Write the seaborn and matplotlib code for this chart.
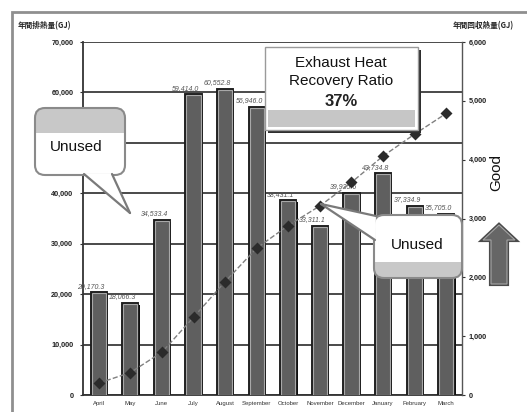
import numpy as np
import pandas as pd
import matplotlib
matplotlib.use("Agg")
import matplotlib.pyplot as plt
import matplotlib.patheffects as pe
from matplotlib.patches import FancyBboxPatch, Rectangle, Polygon
from matplotlib.lines import Line2D
from matplotlib.transforms import IdentityTransform
from matplotlib.ticker import FixedLocator, FuncFormatter
import seaborn as sns

# ---- data -------------------------------------------------------------
months = ["April", "May", "June", "July", "August", "September",
          "October", "November", "December", "January", "February", "March"]
heat_volume = [20170.3, 18066.3, 34533.4, 59414.0, 60552.8, 56946.0,
               38431.1, 33311.1, 39935.6, 43734.8, 37334.9, 35705.0]
recovered_cumulative = [202, 382, 728, 1322, 1927, 2497,
                        2881, 3214, 3614, 4061, 4434, 4786]
left_ticks = [0, 10000, 20000, 30000, 40000, 50000, 60000, 70000]
right_ticks = [0, 1000, 2000, 3000, 4000, 5000, 6000]
left_title = "年間排熱量(GJ)"
right_title = "年間回収熱量(GJ)"
ratio_lines = ["Exhaust Heat", "Recovery Ratio"]
ratio_value = "37%"
callout_text = "Unused"
good_text = "Good"

df = pd.DataFrame({"month": months, "volume": heat_volume,
                   "recovered": recovered_cumulative})

# ---- style ------------------------------------------------------------
sns.set_theme(style="white")
plt.rcParams["font.family"] = ["Liberation Sans", "Noto Sans CJK JP", "DejaVu Sans"]

W, H = 527, 412
fig = plt.figure(figsize=(W / 100, H / 100), dpi=100)
fig.patch.set_facecolor("white")
ax = fig.add_axes([83 / W, 1 - 395 / H, (462 - 83) / W, (395 - 42) / H])
ax.set_facecolor("white")

# ---- bars -------------------------------------------------------------
sns.barplot(data=df, x="month", y="volume", ax=ax, color="#5f5f5f",
            saturation=1, width=0.45, edgecolor="#a8a8a8", linewidth=0.8,
            zorder=3)
for bar in ax.patches:
    bar.set_path_effects([
        pe.SimplePatchShadow(offset=(1.6, -0.6), shadow_rgbFace="#111111", alpha=1),
        pe.Stroke(linewidth=2.8, foreground="#1c1c1c"),
        pe.Normal(),
    ])

labels = ax.bar_label(ax.containers[0],
                      labels=[f"{v:,.1f}" for v in heat_volume],
                      fontsize=5, fontstyle="italic", color="#555555",
                      padding=2, zorder=4)
for t in labels:
    t.xyann = (-5.5, 2.5)

ax.set_xlim(-0.5, len(months) - 0.5)
ax.set_ylim(left_ticks[0], left_ticks[-1])
ax.yaxis.set_major_locator(FixedLocator(left_ticks))
ax.yaxis.set_major_formatter(FuncFormatter(lambda v, p: f"{int(v):,}"))
ax.yaxis.grid(True, color="#3c3c3c", linewidth=1.3, zorder=0)
ax.set_axisbelow(True)
ax.set_xlabel("")
ax.set_ylabel("")
ax.tick_params(axis="x", length=0, labelsize=4.3, labelcolor="#333333", pad=4)
ax.tick_params(axis="y", length=2, width=0.8, labelsize=5.2,
               labelcolor="#1e1e1e", pad=5, color="#333333")
for lab in ax.get_yticklabels():
    lab.set_fontweight("bold")
for side in ["left", "bottom"]:
    ax.spines[side].set_color("#333333")
    ax.spines[side].set_linewidth(1.3)
ax.spines["top"].set_visible(False)
ax.spines["right"].set_visible(False)

# ---- cumulative recovered heat line ------------------------------------
ax2 = ax.twinx()
sns.pointplot(data=df, x="month", y="recovered", ax=ax2, color="#808080",
              markers="D", linestyles="--", errorbar=None, zorder=5)
line = ax2.lines[0]
line.set_linewidth(1.0)
line.set_markersize(3.6)
line.set_markerfacecolor("#2b2b2b")
line.set_markeredgecolor("#2b2b2b")
ax2.set_xlim(-0.5, len(months) - 0.5)
ax2.set_ylim(right_ticks[0], right_ticks[-1])
ax2.yaxis.set_major_locator(FixedLocator(right_ticks))
ax2.yaxis.set_major_formatter(FuncFormatter(lambda v, p: f"{int(v):,}"))
ax2.set_ylabel("")
ax2.set_xlabel("")
ax2.grid(False)
ax2.tick_params(axis="y", length=2, width=0.8, labelsize=5.2,
                labelcolor="#1e1e1e", pad=3, color="#333333")
for lab in ax2.get_yticklabels():
    lab.set_fontweight("bold")
for side in ["left", "top", "bottom"]:
    ax2.spines[side].set_visible(False)
ax2.spines["right"].set_color("#555555")
ax2.spines["right"].set_linewidth(1.0)

# ---- annotations in pixel space --------------------------------------
ID = IdentityTransform()


def py(y):
    return H - y


# outer frame
fig.add_artist(Rectangle((12, py(440)), 540, 428, transform=ID,
                         fc="none", ec="#8f8f8f", lw=2.0, zorder=0))

# axis titles
fig.text(18 / W, 1 - 26 / H, left_title, fontsize=5.5, fontweight="bold",
         color="#222222", ha="left", va="center",
         family=["Noto Sans CJK JP", "DejaVu Sans"])
fig.text(453 / W, 1 - 26 / H, right_title, fontsize=5.5, fontweight="bold",
         color="#222222", ha="left", va="center",
         family=["Noto Sans CJK JP", "DejaVu Sans"])


def callout(x0, y0, x1, y1, band, tail, text_xy):
    box = FancyBboxPatch((x0, py(y1)), x1 - x0, y1 - y0,
                         boxstyle="round,pad=0,rounding_size=10",
                         transform=ID, fc="white", ec="none", zorder=10)
    fig.add_artist(box)
    strip = Rectangle((x0, py(band[1])), x1 - x0, band[1] - band[0],
                      transform=ID, fc="#c8c8c8", ec="none", zorder=10.5)
    strip.set_clip_path(box)
    fig.add_artist(strip)
    fig.add_artist(FancyBboxPatch((x0, py(y1)), x1 - x0, y1 - y0,
                                  boxstyle="round,pad=0,rounding_size=10",
                                  transform=ID, fc="none", ec="#8a8a8a",
                                  lw=1.5, zorder=11))
    pts = [(x, py(y)) for x, y in tail]
    fig.add_artist(Polygon(pts, closed=True, transform=ID, fc="white",
                           ec="none", zorder=11.5))
    for a, b in [(pts[0], pts[2]), (pts[1], pts[2])]:
        fig.add_artist(Line2D([a[0], b[0]], [a[1], b[1]], transform=ID,
                              color="#7a7a7a", lw=1.6, zorder=12))
    fig.text(text_xy[0] / W, 1 - text_xy[1] / H, callout_text, fontsize=11,
             ha="center", va="center", color="#111111", zorder=13)


callout(35, 108, 125, 175, (108, 133), [(84, 174), (112, 174), (130, 213)],
        (76, 147))
callout(374, 215, 462, 278, (262, 278), [(376, 216), (375, 240), (321, 204)],
        (417, 245))

# recovery ratio box
fig.add_artist(Rectangle((268, py(133)), 153, 83, transform=ID,
                         fc="#2e2e2e", ec="none", zorder=10))
fig.add_artist(Rectangle((265, py(130)), 153, 83, transform=ID,
                         fc="white", ec="#9a9a9a", lw=1.0, zorder=10.2))
fig.add_artist(Rectangle((268, py(127)), 147, 17, transform=ID,
                         fc="#c6c6c6", ec="none", zorder=10.4))
fig.text(341 / W, 1 - 63 / H, ratio_lines[0], fontsize=11, ha="center",
         va="center", color="#111111", zorder=13)
fig.text(341 / W, 1 - 81 / H, ratio_lines[1], fontsize=11, ha="center",
         va="center", color="#111111", zorder=13)
fig.text(341 / W, 1 - 101 / H, ratio_value, fontsize=12, fontweight="bold",
         ha="center", va="center", color="#222222", zorder=13)

# "Good" with upward arrow
fig.text(496 / W, 1 - 172 / H, good_text, fontsize=11, rotation=90,
         ha="center", va="center", color="#111111", zorder=13)
arrow = Polygon([(499, py(225)), (515, py(240)), (507, py(240)),
                 (507, py(284)), (491, py(284)), (491, py(240)),
                 (483, py(240))], closed=True, transform=ID,
                fc="#666666", ec="#a5a5a5", lw=0.8, zorder=10)
arrow.set_path_effects([pe.Stroke(linewidth=3.0, foreground="#4a4a4a"),
                        pe.Normal()])
fig.add_artist(arrow)

fig.savefig("out.png", dpi=100, facecolor="white")
